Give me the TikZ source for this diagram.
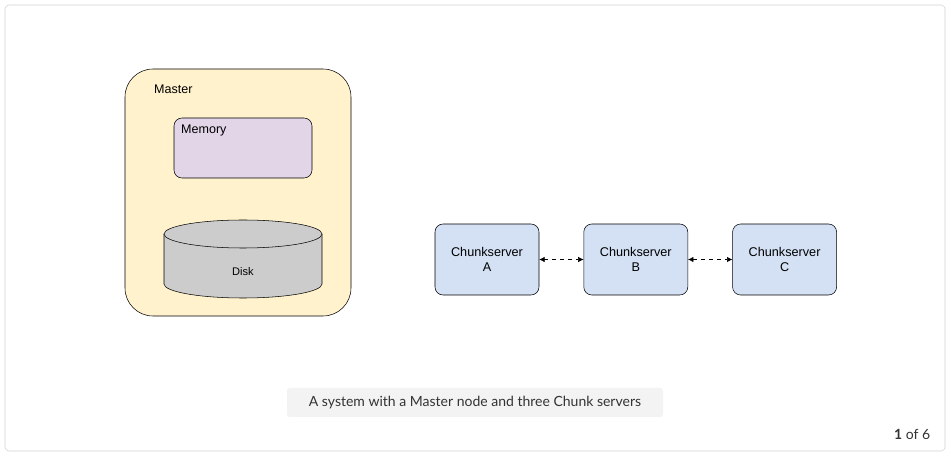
\documentclass[tikz,border=0pt]{standalone}
\usepackage{fontspec}
\setmainfont{Liberation Sans}
\newfontfamily\capfont{Lato}
\usepackage{xcolor}
\usetikzlibrary{positioning}
\usetikzlibrary{arrows.meta}
\definecolor{masterfill}{HTML}{FFF2CC}
\definecolor{memfill}{HTML}{E1D5E7}
\definecolor{diskfill}{HTML}{CCCCCC}
\definecolor{chunkfill}{HTML}{D4E1F5}
\definecolor{capfill}{HTML}{F3F3F3}
\definecolor{captext}{HTML}{333333}
\definecolor{framegray}{HTML}{D3D3D3}

\begin{document}
\begin{tikzpicture}[x=0.75pt, y=-0.75pt,
  box/.style = {draw, rounded corners=6pt, inner sep=0pt},
  chunk/.style = {box, fill=chunkfill, minimum width=78pt, minimum height=53.25pt, align=center, font=\fontsize{9.5}{11.25}\selectfont},
  link/.style = {dashed, {Latex[length=4pt,width=4pt]}-{Latex[length=4pt,width=4pt]}},
  node distance=33.2pt]
\useasboundingbox (0,0) rectangle (951,456);
\draw[framegray, rounded corners=3pt] (5,5) rectangle (945,451);

% master with memory and disk
\node[box, fill=masterfill, rounded corners=21pt, minimum width=169.5pt, minimum height=185.25pt] (master) at (238,192.5) {};
\node[anchor=west, font=\fontsize{9.4}{11}\selectfont] (mastertxt) at (149.5,89) {Master};
\node[box, fill=memfill, minimum width=103.5pt, minimum height=45pt] (mem) at (243,148) {};
\node[anchor=west, font=\fontsize{9.4}{11}\selectfont] (memtxt) at (176.5,130) {Memory};
\draw[fill=diskfill] (164,234) -- (164,284) arc[start angle=180, end angle=0, x radius=79, y radius=14] -- (322,234);
\draw[fill=diskfill] (243,234) ellipse[x radius=79, y radius=14];
\node[font=\fontsize{8.3}{10}\selectfont] (disk) at (243,272) {Disk};

% chunk servers
\node[chunk] (a) at (487,259.5) {Chunkserver\\A};
\node[chunk] (b) [right=of a] {Chunkserver\\B};
\node[chunk] (c) [right=of b] {Chunkserver\\C};
\draw[link] (a) -- (b);
\draw[link] (b) -- (c);

% caption
\node[fill=capfill, rounded corners=2pt, minimum width=282pt, minimum height=21.75pt, text=captext, font=\capfont\fontsize{10.5}{12}\selectfont] (cap) at (475,402.5) {A system with a Master node and three Chunk servers};
\node[anchor=east, text=captext, font=\capfont\fontsize{10.5}{12}\selectfont] (page) at (935,434) {\textbf{1} of 6};
\end{tikzpicture}
\end{document}
